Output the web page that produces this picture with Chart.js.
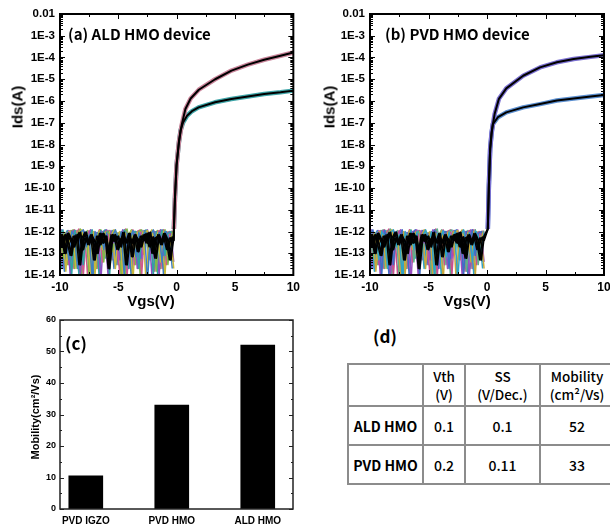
<!DOCTYPE html>
<html>
<head>
<meta charset="utf-8">
<title>HMO TFT transfer curves and mobility</title>
<script src="https://cdn.jsdelivr.net/npm/chart.js@4.4.1/dist/chart.umd.min.js"></script>
<style>
  html, body { margin: 0; padding: 0; background: #fff; }
  body { width: 610px; height: 529px; position: relative; overflow: hidden; }
  canvas { position: absolute; }
  #chartA { left: 0; top: 0; }
  #chartB { left: 305px; top: 0; }
  #chartC { left: 0; top: 300px; }
  .lbl { position: absolute; white-space: nowrap; line-height: 1; color: #000; transform: translate(-50%, -50%); }
  .left { transform: translate(0, -50%); }
  .rot { transform: translate(-50%, -50%) rotate(-90deg); }
  .axis { font: bold 15px 'Liberation Sans', Arial, sans-serif; }
  .axis-sm { font: bold 11px 'Liberation Sans', Arial, sans-serif; }
  .panel { font: bold 15px 'Noto Sans CJK KR', 'Noto Sans', sans-serif; }
  #summary { position: absolute; left: 347px; top: 363px; border-collapse: collapse; table-layout: fixed; width: 266px;
             font-family: 'Noto Sans CJK KR', 'Noto Sans', sans-serif; color: #000; }
  #summary td { border: 2px solid #8c8c8c; text-align: center; padding: 0; }
  #summary tr.head td { height: 40px; font-size: 13.5px; font-weight: 500; line-height: 18px; }
  #summary tr.row td { height: 37px; font-size: 14px; font-weight: 500; }
  #summary tr.row td.name { font-weight: bold; }
</style>
</head>
<body>
<canvas id="chartA" width="305" height="310"></canvas>
<canvas id="chartB" width="315" height="310"></canvas>
<canvas id="chartC" width="305" height="229"></canvas>

<div class="lbl left panel" style="left:68px; top:33px;">(a) ALD HMO device</div>
<div class="lbl left panel" style="left:385px; top:33px;">(b) PVD HMO device</div>
<div class="lbl rot axis" style="left:17px; top:107px;">Ids(A)</div>
<div class="lbl rot axis" style="left:329px; top:107px;">Ids(A)</div>
<div class="lbl axis" style="left:151px; top:300px;">Vgs(V)</div>
<div class="lbl axis" style="left:467px; top:300px;">Vgs(V)</div>
<div class="lbl panel" style="left:76px; top:342px; font-size:17px;">(c)</div>
<div class="lbl rot axis-sm" style="left:35px; top:417px;">Mobility(cm²/Vs)</div>
<div class="lbl panel" style="left:385px; top:335px; font-size:17px;">(d)</div>

<table id="summary"></table>

<script>
// ---- transfer curves: off-state sweeps (Vgs in V, noise floor in pA) ----
const vgsSweep = [-10, -9.75, -9.5, -9.25, -9, -8.75, -8.5, -8.25, -8, -7.75,
  -7.5, -7.25, -7, -6.75, -6.5, -6.25, -6, -5.75, -5.5, -5.25,
  -5, -4.75, -4.5, -4.25, -4, -3.75, -3.5, -3.25, -3, -2.75,
  -2.5, -2.25, -2, -1.75, -1.5, -1.25, -1, -0.75, -0.5, -0.25];
// second set of sweeps, sampled half a step apart
const vgsSweepMid = [-10.125, -9.875, -9.625, -9.375, -9.125, -8.875, -8.625, -8.375, -8.125, -7.875,
  -7.625, -7.375, -7.125, -6.875, -6.625, -6.375, -6.125, -5.875, -5.625, -5.375,
  -5.125, -4.875, -4.625, -4.375, -4.125, -3.875, -3.625, -3.375, -3.125, -2.875,
  -2.625, -2.375, -2.125, -1.875, -1.625, -1.375, -1.125, -0.875, -0.625, -0.375];

const offBlue = [1.1, 0.3, 0.8, 0.05, 1.0, 0.6, 0.02, 0.9, 1.2, 0.2, 0.7, 0.008, 1.0, 0.4, 1.1, 0.15, 0.9, 0.03, 0.6, 1.2,
  0.3, 1.0, 0.01, 0.8, 0.5, 1.1, 0.07, 0.9, 0.35, 1.0, 0.005, 0.7, 1.2, 0.25, 0.9, 0.04, 1.0, 0.6, 0.1, 0.9];
const offTeal = [0.7, 1.2, 0.1, 0.9, 0.01, 1.1, 0.5, 0.8, 0.03, 1.0, 0.4, 1.2, 0.06, 0.9, 0.2, 1.0, 0.6, 0.009, 1.1, 0.3,
  0.8, 0.05, 1.2, 0.7, 0.15, 0.9, 1.0, 0.02, 0.6, 1.1, 0.4, 0.9, 0.01, 1.0, 0.3, 1.2, 0.08, 0.8, 1.0, 0.5];
const offGreen = [1.2, 0.06, 0.9, 0.5, 1.1, 0.02, 0.8, 1.3, 0.2, 0.9, 0.007, 1.0, 0.7, 0.3, 1.2, 0.04, 1.0, 0.8, 0.12, 1.1,
  0.5, 0.01, 0.9, 1.3, 0.25, 0.7, 0.03, 1.0, 1.2, 0.09, 0.8, 0.5, 1.1, 0.015, 0.9, 0.4, 1.2, 0.03, 0.7, 1.1];
const offOlive = [0.4, 0.9, 0.015, 1.0, 0.3, 0.8, 1.1, 0.04, 0.6, 1.0, 0.2, 0.9, 0.01, 0.7, 1.1, 0.5, 0.06, 1.0, 0.8, 0.02,
  0.9, 0.4, 1.1, 0.1, 0.8, 0.005, 1.0, 0.6, 0.3, 0.9, 1.1, 0.05, 0.7, 1.0, 0.2, 0.8, 0.01, 1.0, 0.5, 0.02];
const offPurple = [0.9, 0.02, 0.6, 1.1, 0.15, 0.9, 0.4, 0.01, 1.0, 0.7, 0.3, 1.1, 0.08, 0.8, 0.005, 0.9, 1.2, 0.25, 0.6, 1.0,
  0.03, 0.9, 0.5, 1.1, 0.02, 0.8, 0.4, 1.0, 0.06, 0.7, 1.2, 0.2, 0.9, 0.5, 0.01, 1.1, 0.7, 0.2, 0.9, 0.04];
const offPink = [0.2, 1.0, 0.7, 0.03, 0.9, 1.2, 0.1, 0.8, 0.01, 0.6, 1.1, 0.4, 0.9, 0.02, 1.0, 0.3, 0.8, 1.1, 0.05, 0.9,
  0.6, 0.2, 1.0, 0.009, 0.7, 1.2, 0.35, 0.8, 0.01, 1.0, 0.6, 0.9, 0.1, 0.8, 1.1, 0.02, 0.6, 0.9, 0.3, 1.0];
const offBlackHigh = [0.5, 0.2, 0.7, 0.3, 0.08, 0.6, 0.4, 0.9, 0.15, 0.5, 0.3, 0.7, 0.05, 0.6, 0.25, 0.8, 0.4, 0.1, 0.7, 0.35,
  0.6, 0.2, 0.9, 0.03, 0.5, 0.3, 0.7, 0.12, 0.6, 0.4, 0.8, 0.2, 0.55, 0.06, 0.7, 0.3, 0.6, 0.15, 0.5, 0.4];
const offBlackLow = [0.3, 0.6, 0.1, 0.8, 0.4, 0.2, 0.7, 0.03, 0.5, 0.9, 0.25, 0.6, 0.35, 0.1, 0.8, 0.3, 0.6, 0.02, 0.5, 0.7,
  0.15, 0.4, 0.6, 0.3, 0.8, 0.07, 0.6, 0.4, 0.2, 0.7, 0.3, 0.9, 0.1, 0.5, 0.6, 0.25, 0.8, 0.4, 0.05, 0.6];

// ---- on-state branches (Vgs in V, Ids in A) ----
const aldVgsHigh = [-0.24, -0.15, -0.01, 0.19, 0.42, 0.75, 1.2, 1.9, 3.3, 4.7, 6.1, 7.5, 8.9, 10];
const aldIdsHigh = [1.3e-12, 3.2e-11, 1.1e-9, 1.3e-8, 7.4e-8, 4.3e-7, 1.3e-6, 3.3e-6, 1.0e-5, 2.5e-5, 4.7e-5, 7.9e-5, 1.2e-4, 1.7e-4];
const aldVgsLow = [-0.24, -0.15, -0.01, 0.19, 0.33, 0.56, 0.89, 1.31, 1.88, 3.29, 4.69, 6.1, 7.5, 8.9, 10];
const aldIdsLow = [1.3e-12, 3.2e-11, 1.1e-9, 1.2e-8, 4.4e-8, 1.05e-7, 2.1e-7, 3.4e-7, 5.1e-7, 8.7e-7, 1.23e-6, 1.62e-6, 2.1e-6, 2.5e-6, 3.0e-6];

const pvdVgsHigh = [0.07, 0.16, 0.27, 0.39, 0.65, 1.02, 1.65, 3.09, 4.53, 5.97, 7.41, 8.85, 10];
const pvdIdsHigh = [1.3e-12, 1.26e-10, 6.3e-9, 3.6e-8, 2.5e-7, 1.26e-6, 3.8e-6, 1.45e-5, 3.5e-5, 6.0e-5, 8.5e-5, 1.07e-4, 1.26e-4];
const pvdVgsLow = [0.07, 0.16, 0.27, 0.39, 0.5, 0.94, 1.65, 3.09, 4.53, 5.97, 7.41, 8.85, 10];
const pvdIdsLow = [1.3e-12, 1.26e-10, 6.3e-9, 3.0e-8, 8.7e-8, 1.8e-7, 3.0e-7, 5.1e-7, 7.2e-7, 1.05e-6, 1.3e-6, 1.6e-6, 1.9e-6];

const idsTicks = [1e-14, 1e-13, 1e-12, 1e-11, 1e-10, 1e-9, 1e-8, 1e-7, 1e-6, 1e-5, 1e-4, 1e-3, 1e-2];
const idsTickLabels = ['1E-14', '1E-13', '1E-12', '1E-11', '1E-10', '1E-9', '1E-8', '1E-7', '1E-6', '1E-5', '1E-4', '1E-3', '0.01'];
const vgsTicks = [-10, -5, 0, 5, 10];
const vgsMinorTicks = [-7.5, -2.5, 2.5, 7.5];

// ---- mobility bars + summary table ----
const barCategories = ['PVD IGZO', 'PVD HMO', 'ALD HMO'];
const mobility = [10.5, 33, 52];
const mobilityTicks = [0, 10, 20, 30, 40, 50, 60];
const mobilityMinorTicks = [5, 15, 25, 35, 45, 55];

const tableDevices = ['ALD HMO', 'PVD HMO'];
const tableVth = ['0.1', '0.2'];
const tableSS = ['0.1', '0.11'];
const tableMobilityIndex = [2, 1];   // rows point at the bar values above

const plainFont = "'Liberation Sans', Arial, sans-serif";

Chart.defaults.color = '#000';

// inside ticks on all four sides plus a closed frame
const frameTicks = {
  id: 'frameTicks',
  afterDatasetsDraw(chart, args, o) {
    const { ctx, chartArea: a } = chart;
    const sx = chart.scales.x, sy = chart.scales.y;
    ctx.save();
    ctx.strokeStyle = o.color;
    ctx.lineWidth = o.tickWidth;
    ctx.beginPath();
    const mark = (vals, len, scale, horiz) => vals.forEach(v => {
      const p = Math.round(scale.getPixelForValue(v)) + 0.5;
      if (horiz) {
        ctx.moveTo(p, a.bottom); ctx.lineTo(p, a.bottom - len);
        ctx.moveTo(p, a.top); ctx.lineTo(p, a.top + len);
      } else {
        ctx.moveTo(a.left, p); ctx.lineTo(a.left + len, p);
        ctx.moveTo(a.right, p); ctx.lineTo(a.right - len, p);
      }
    });
    mark(o.xMajor || [], o.majorLen, sx, true);
    mark(o.xMinor || [], o.minorLen, sx, true);
    mark(o.yMajor || [], o.majorLen, sy, false);
    mark(o.yMinor || [], o.minorLen, sy, false);
    ctx.stroke();
    ctx.lineWidth = o.frameWidth;
    ctx.strokeRect(a.left, a.top, a.right - a.left, a.bottom - a.top);
    ctx.restore();
  }
};

function toPoints(xs, ys, unit) {
  const k = unit || 1;
  return xs.map((x, i) => ({ x: x, y: ys[i] * k }));
}

const idsMinorTicks = idsTicks.slice(0, -1).flatMap(d => [2, 3, 4, 5, 6, 7, 8, 9].map(m => d * m));

function transferChart(id, leftWidth, rightPad, branch, noiseColors, haloColors) {
  const noise = [offBlue, offTeal, offGreen, offOlive, offPurple, offPink];
  const datasets = [];
  // colored repeat sweeps, two interleaved sets
  noise.forEach((trace, i) => {
    datasets.push({ data: toPoints(vgsSweep, trace, 1e-12), borderColor: noiseColors[i], borderWidth: 1.5, order: 3 });
    datasets.push({ data: toPoints(vgsSweepMid, trace, 1e-12), borderColor: noiseColors[(i + 3) % 6], borderWidth: 1.5, order: 3 });
  });
  datasets.push({ data: toPoints(branch.vgsHigh, branch.idsHigh), borderColor: haloColors[0], borderWidth: 4.5, order: 2 });
  datasets.push({ data: toPoints(branch.vgsLow, branch.idsLow), borderColor: haloColors[1], borderWidth: 4.5, order: 2 });
  // representative sweeps in black
  datasets.push({
    data: toPoints(vgsSweep, offBlackHigh, 1e-12).concat(toPoints(branch.vgsHigh, branch.idsHigh)),
    borderColor: '#000', borderWidth: 2, order: 1
  });
  datasets.push({
    data: toPoints(vgsSweep, offBlackLow, 1e-12).concat(toPoints(branch.vgsLow, branch.idsLow)),
    borderColor: '#000', borderWidth: 2, order: 1
  });
  datasets.push({ data: toPoints(vgsSweepMid, offBlackHigh, 1e-12), borderColor: '#000', borderWidth: 1.5, order: 1 });
  datasets.push({ data: toPoints(vgsSweepMid, offBlackLow, 1e-12), borderColor: '#000', borderWidth: 1.5, order: 1 });

  return new Chart(document.getElementById(id), {
    type: 'line',
    data: { datasets: datasets },
    options: {
      responsive: false,
      animation: false,
      devicePixelRatio: 1,
      layout: { padding: { left: 0, top: 14, right: rightPad, bottom: 0 } },
      elements: { point: { radius: 0 }, line: { tension: 0, borderJoinStyle: 'round' } },
      plugins: {
        legend: { display: false },
        tooltip: { enabled: false },
        frameTicks: {
          color: '#000', tickWidth: 1, frameWidth: 2, majorLen: 5, minorLen: 3,
          xMajor: vgsTicks, xMinor: vgsMinorTicks, yMajor: idsTicks, yMinor: idsMinorTicks
        }
      },
      scales: {
        x: {
          type: 'linear', min: -10, max: 10,
          afterBuildTicks: s => { s.ticks = vgsTicks.map(v => ({ value: v })); },
          ticks: { font: { family: plainFont, size: 12, weight: 'bold' }, padding: 5, maxRotation: 0, autoSkip: false },
          grid: { display: false, drawTicks: false },
          border: { display: false },
          afterFit: s => { s.height = 35; }
        },
        y: {
          type: 'logarithmic', min: 1e-14, max: 1e-2,
          afterBuildTicks: s => { s.ticks = idsTicks.map(v => ({ value: v })); },
          ticks: {
            callback: (v, i) => idsTickLabels[i],
            font: { family: plainFont, size: 11.5, weight: 'bold' }, padding: 5, autoSkip: false
          },
          grid: { display: false, drawTicks: false },
          border: { display: false },
          afterFit: s => { s.width = leftWidth; }
        }
      }
    },
    plugins: [frameTicks]
  });
}

transferChart('chartA', 60, 8,
  { vgsHigh: aldVgsHigh, idsHigh: aldIdsHigh, vgsLow: aldVgsLow, idsLow: aldIdsLow },
  ['#3d7fc4', '#2fa3a3', '#7fba4a', '#c9b83a', '#8e4fc0', '#d0588f'],
  ['#c9849a', '#3fa5a8']);

transferChart('chartB', 65, 16,
  { vgsHigh: pvdVgsHigh, idsHigh: pvdIdsHigh, vgsLow: pvdVgsLow, idsLow: pvdIdsLow },
  ['#2fa3c8', '#3d6fc4', '#5fb08a', '#c9a83a', '#9a4fc0', '#c8508f'],
  ['#7a6fd0', '#5b8fd0']);

// ---- (c) mobility bars ----
new Chart(document.getElementById('chartC'), {
  type: 'bar',
  data: {
    datasets: [{
      data: toPoints(barCategories.map((c, i) => i + 1), mobility),
      backgroundColor: '#000', barThickness: 34
    }]
  },
  options: {
    responsive: false,
    animation: false,
    devicePixelRatio: 1,
    layout: { padding: { left: 0, top: 20, right: 12, bottom: 0 } },
    plugins: {
      legend: { display: false },
      tooltip: { enabled: false },
      frameTicks: {
        color: '#222', tickWidth: 1, frameWidth: 1.5, majorLen: 4, minorLen: 2,
        yMajor: mobilityTicks, yMinor: mobilityMinorTicks
      }
    },
    scales: {
      x: {
        type: 'linear', min: 0.7, max: 3.41, offset: false,
        afterBuildTicks: s => { s.ticks = barCategories.map((c, i) => ({ value: i + 1 })); },
        ticks: { callback: (v, i) => barCategories[i], font: { family: plainFont, size: 10, weight: 'bold' }, padding: 6, maxRotation: 0, autoSkip: false },
        grid: { display: false, drawTicks: false },
        border: { display: false },
        afterFit: s => { s.height = 20; }
      },
      y: {
        min: 0, max: 60,
        afterBuildTicks: s => { s.ticks = mobilityTicks.map(v => ({ value: v })); },
        ticks: { font: { family: plainFont, size: 9, weight: 'bold' }, padding: 4 },
        grid: { display: false, drawTicks: false },
        border: { display: false },
        afterFit: s => { s.width = 60; }
      }
    }
  },
  plugins: [frameTicks]
});

// ---- (d) summary table ----
const table = document.getElementById('summary');
const colWidths = [75, 42, 75, 74];
table.innerHTML =
  '<colgroup>' + colWidths.map(w => '<col style="width:' + w + 'px">').join('') + '</colgroup>' +
  '<tr class="head"><td></td><td>Vth<br>(V)</td><td>SS<br>(V/Dec.)</td><td>Mobility<br>(cm²/Vs)</td></tr>' +
  tableDevices.map((name, r) =>
    '<tr class="row"><td class="name">' + name + '</td><td>' + tableVth[r] + '</td><td>' + tableSS[r] +
    '</td><td>' + mobility[tableMobilityIndex[r]] + '</td></tr>').join('');
</script>
</body>
</html>
